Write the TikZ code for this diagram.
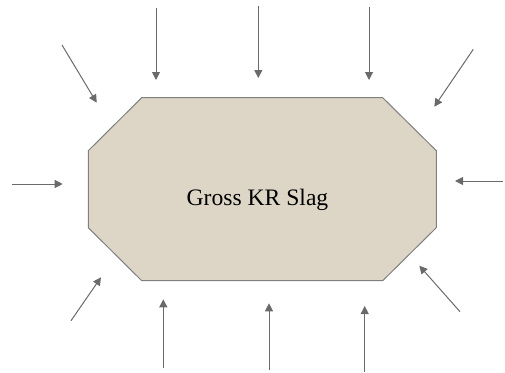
\documentclass[tikz,border=0pt]{standalone}
\usepackage{fontspec}
\setmainfont{Liberation Serif}
\usetikzlibrary{arrows.meta}
\definecolor{slagfill}{HTML}{DDD6C6}
\definecolor{slagedge}{HTML}{7F7F7F}
\definecolor{flow}{HTML}{6A6A6A}
\tikzset{
  slag/.style={draw=slagedge, fill=slagfill, line width=1pt},
  inflow/.style={draw=flow, line width=1pt, -{Triangle[length=8pt,width=8pt]}},
  label/.style={font=\fontsize{23.6}{28}\selectfont, text=black, inner sep=0pt}
}
\begin{document}
\begin{tikzpicture}[x=1pt, y=-1pt]
  \useasboundingbox (0,0) rectangle (505,372);
  % octagonal slag body
  \draw[slag] (141.7,97.7) -- (382.7,97.7) -- (436.3,150.7) -- (436.3,227.7)
    -- (382.7,280.7) -- (141.7,280.7) -- (88.3,227.7) -- (88.3,150.7) -- cycle;
  \node[label, anchor=base] (slag) at (257.5,205.3) {Gross KR Slag};
  % arrow end points
  \coordinate (t1s) at (156,8);      \coordinate (t1e) at (156,80);
  \coordinate (t2s) at (258.3,6);    \coordinate (t2e) at (258.3,78);
  \coordinate (t3s) at (369,7);      \coordinate (t3e) at (369,80);
  \coordinate (tls) at (62,45);      \coordinate (tle) at (96.7,102.7);
  \coordinate (trs) at (473.3,49.3); \coordinate (tre) at (434.3,106.7);
  \coordinate (ls) at (11.7,184);    \coordinate (le) at (62.7,184);
  \coordinate (rs) at (503,181);     \coordinate (re) at (455,181);
  \coordinate (bls) at (71,320.7);   \coordinate (ble) at (101,277.3);
  \coordinate (brs) at (460,311.7);  \coordinate (bre) at (419.3,265.7);
  \coordinate (b1s) at (163.3,368);  \coordinate (b1e) at (163.3,299.3);
  \coordinate (b2s) at (269,370);    \coordinate (b2e) at (269,303.3);
  \coordinate (b3s) at (364.7,372);  \coordinate (b3e) at (364.7,306);
  % inflow arrows
  \foreach \a in {t1,t2,t3,tl,tr,l,r,bl,br,b1,b2,b3}
    \draw[inflow] (\a s) -- (\a e);
\end{tikzpicture}
\end{document}
